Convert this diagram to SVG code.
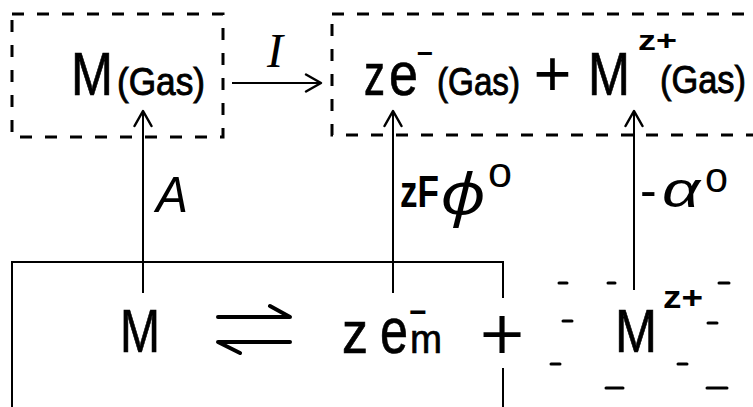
<svg xmlns="http://www.w3.org/2000/svg" width="753" height="407" viewBox="0 0 753 407">
<defs>
<style>
.t{font-family:"Liberation Sans","DejaVu Sans",sans-serif;fill:#000}
.k{font-family:"Liberation Sans","DejaVu Sans",sans-serif;fill:#000;stroke:#000;stroke-width:0.7}
.g{font-family:"Liberation Sans","DejaVu Sans",sans-serif;fill:#000;stroke:#000;stroke-width:0.9}
.b{font-weight:bold}
.i{font-style:italic}
.box{fill:none;stroke:#000;stroke-width:3;stroke-dasharray:12 13}
.ln{fill:none;stroke:#000;stroke-width:2}
.ch{stroke:#000;stroke-width:3;stroke-linecap:round}
</style>
<marker id="ah" markerUnits="userSpaceOnUse" markerWidth="24" markerHeight="24" viewBox="-16 -12 20 24" refX="0" refY="0" orient="auto">
<path d="M-15,-8.5 L0,0 L-15,8.5" fill="none" stroke="#000" stroke-width="2.5" stroke-linecap="round" stroke-linejoin="round"/>
</marker>
</defs>
<rect width="753" height="407" fill="#fff"/>

<g id="gas-atom">
<rect class="box" x="12" y="14" width="211" height="123"/>
<text class="k" x="71" y="95" font-size="61" textLength="42" lengthAdjust="spacingAndGlyphs">M</text>
<text class="g" x="117" y="95" font-size="38" textLength="88" lengthAdjust="spacingAndGlyphs">(Gas)</text>
</g>

<g id="gas-ions">
<rect class="box" x="332" y="14" width="440" height="121"/>
<text class="k" x="364" y="95" font-size="60" textLength="21" lengthAdjust="spacingAndGlyphs">z</text>
<text class="k" x="389" y="95" font-size="62" textLength="29" lengthAdjust="spacingAndGlyphs">e</text>
<text class="t b" x="425" y="63" font-size="28" text-anchor="middle">−</text>
<text class="g" x="437" y="95" font-size="38" textLength="83" lengthAdjust="spacingAndGlyphs">(Gas)</text>
<text class="t" x="552.5" y="96" font-size="65" text-anchor="middle">+</text>
<text class="k" x="588" y="95" font-size="61" textLength="42" lengthAdjust="spacingAndGlyphs">M</text>
<text class="t b" x="638" y="50" font-size="28" textLength="39" lengthAdjust="spacingAndGlyphs">z+</text>
<text class="g" x="660" y="93" font-size="38" textLength="86" lengthAdjust="spacingAndGlyphs">(Gas)</text>
</g>

<g id="metal">
<path class="ln" d="M12,407 V262 H503 V298 M503,368 V407"/>
<text class="k" x="120" y="352" font-size="61" textLength="40" lengthAdjust="spacingAndGlyphs">M</text>
<path d="M218,317 H290 L270,306 M290,342 H218 L240,353" fill="none" stroke="#000" stroke-width="4" stroke-linecap="round" stroke-linejoin="round"/>
<text class="k" x="342" y="353" font-size="60" textLength="26" lengthAdjust="spacingAndGlyphs">z</text>
<text class="k" x="380" y="353" font-size="64" textLength="28" lengthAdjust="spacingAndGlyphs">e</text>
<text class="t b" x="418" y="322" font-size="30" text-anchor="middle">−</text>
<text class="k" x="410" y="353" font-size="40" textLength="32" lengthAdjust="spacingAndGlyphs">m</text>
<text style="font-family:Inter,'Liberation Sans',sans-serif;font-weight:300" x="502" y="358" font-size="82" text-anchor="middle">+</text>
</g>

<g id="solvated-ion">
<text class="k" x="615" y="352" font-size="62" textLength="42" lengthAdjust="spacingAndGlyphs">M</text>
<text class="t b" x="663" y="308" font-size="32" textLength="40" lengthAdjust="spacingAndGlyphs">z+</text>
<g class="ch">
<line x1="559" y1="283" x2="567" y2="283"/>
<line x1="608" y1="283" x2="615" y2="283"/>
<line x1="719" y1="283" x2="729" y2="283"/>
<line x1="563" y1="321" x2="572" y2="321"/>
<line x1="708" y1="323" x2="717" y2="323"/>
<line x1="551" y1="364" x2="560" y2="364"/>
<line x1="678" y1="364" x2="687" y2="364"/>
<line x1="606" y1="388" x2="623" y2="388"/>
<line x1="707" y1="388" x2="727" y2="388"/>
</g>
</g>

<g id="connectors">
<line class="ln" x1="232" y1="83" x2="321" y2="83" stroke-width="3" marker-end="url(#ah)"/>
<line class="ln" x1="143" y1="293" x2="143" y2="111" marker-end="url(#ah)"/>
<line class="ln" x1="393" y1="293" x2="393" y2="111" marker-end="url(#ah)"/>
<line class="ln" x1="634" y1="290" x2="634" y2="111" marker-end="url(#ah)"/>
<text style="font-family:'Liberation Serif',serif;font-style:italic" x="275" y="67" font-size="48" text-anchor="middle">I</text>
<text class="t i" x="156" y="212" font-size="50" textLength="32" lengthAdjust="spacingAndGlyphs">A</text>
<text class="t b" x="400" y="207" font-size="44" textLength="39" lengthAdjust="spacingAndGlyphs">zF</text>
<text style="font-family:'Noto Sans','DejaVu Sans',sans-serif;font-style:italic" x="440" y="214" font-size="56" textLength="46" lengthAdjust="spacingAndGlyphs">ϕ</text>
<text class="t" x="488" y="187" font-size="42" textLength="24" lengthAdjust="spacingAndGlyphs">o</text>
<text class="t" x="640" y="207" font-size="50">-</text>
<text class="t i" x="662" y="207" font-size="50" textLength="38" lengthAdjust="spacingAndGlyphs">α</text>
<text class="t" x="705" y="192" font-size="42" textLength="23" lengthAdjust="spacingAndGlyphs">o</text>
</g>
</svg>
